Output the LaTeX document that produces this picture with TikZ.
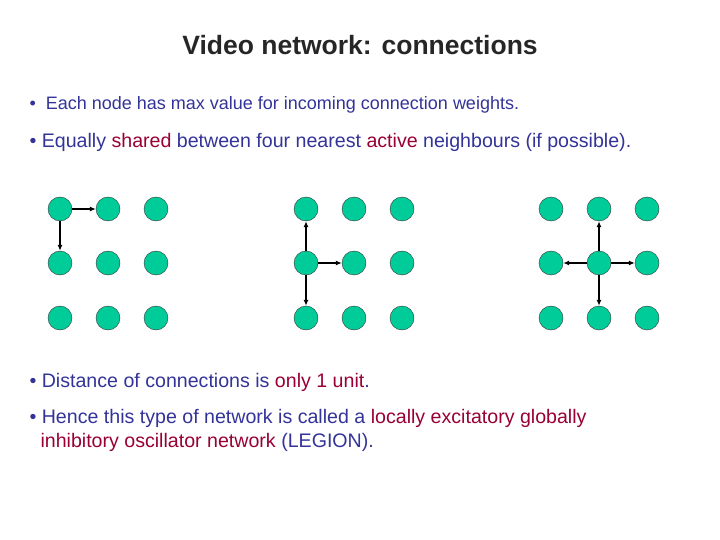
\documentclass[tikz,border=0pt]{standalone}
\usepackage{fontspec}
\usetikzlibrary{arrows.meta}
\setmainfont{Liberation Sans}
\definecolor{nb}{HTML}{333399}
\definecolor{dr}{HTML}{990033}
\definecolor{nd}{HTML}{00CC99}
\begin{document}
\begin{tikzpicture}[x=1pt,y=-1pt,
  nd/.style={circle,draw=black!80,fill=nd,minimum size=24pt,inner sep=0pt},
  ar/.style={-{Latex[length=6pt,width=5pt]},line width=1.6pt},
  bt/.style={anchor=west,text=nb,font=\fontsize{19.6}{24}\selectfont,align=left}]
\useasboundingbox (0,0) rectangle (720,540);
\node[font=\bfseries\fontsize{26.5}{30}\selectfont,text=black!85] (title) at (360,45) {Video network: connections};
\node[bt,font=\fontsize{18}{22}\selectfont] (b1) at (26,105) {\textbullet\ \ Each node has max value for incoming connection weights.};
\node[bt] (b2) at (26,142) {\textbullet\ Equally \textcolor{dr}{shared} between four nearest \textcolor{dr}{active} neighbours (if possible).};
\node[bt] (b3) at (26,382) {\textbullet\ Distance of connections is \textcolor{dr}{only 1 unit}.};
\node[bt,anchor=north west] (b4) at (26,406) {\textbullet\ Hence this type of network is called a \textcolor{dr}{locally excitatory globally}\\[0pt]\hspace*{11pt}\textcolor{dr}{inhibitory oscillator network} (LEGION).};
\foreach \g/\x in {a/60,b/306,c/551}{
  \foreach \i/\dx in {0/0,1/48,2/96}{
    \foreach \j/\y in {0/209,1/263,2/318}{
      \node[nd] (\g\i\j) at (\x+\dx,\y) {};
    }}}
\draw[ar] (a00) -- (a10);
\draw[ar] (a00) -- (a01);
\draw[ar] (b01) -- (b00);
\draw[ar] (b01) -- (b11);
\draw[ar] (b01) -- (b02);
\draw[ar] (c11) -- (c10);
\draw[ar] (c11) -- (c01);
\draw[ar] (c11) -- (c21);
\draw[ar] (c11) -- (c12);
\end{tikzpicture}
\end{document}
